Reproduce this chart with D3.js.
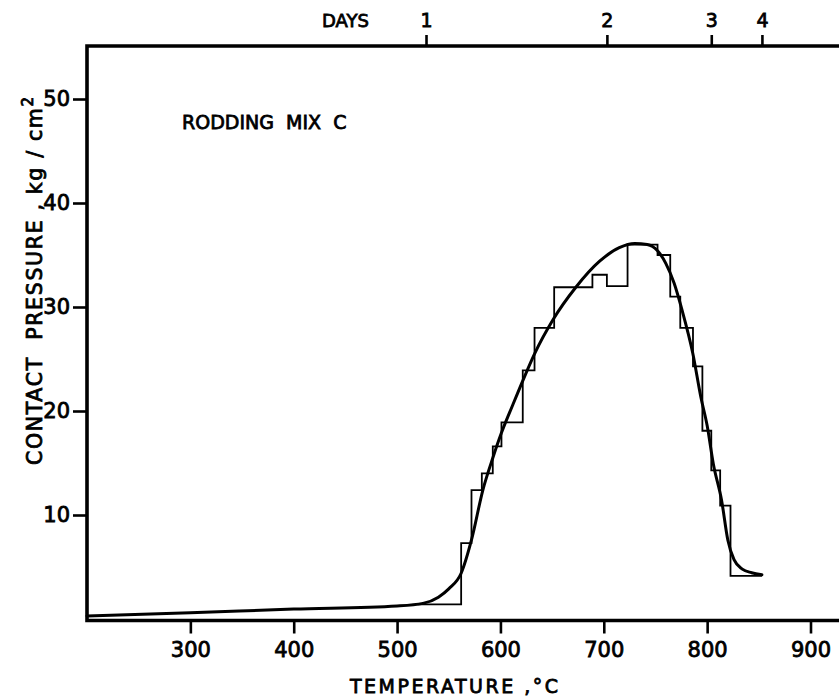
<!DOCTYPE html>
<html><head><meta charset="utf-8">
<script src="https://cdn.jsdelivr.net/npm/d3@7"></script>
<style>
body{margin:0;background:#fff}
svg{display:block}
text{font-family:"DejaVu Sans",sans-serif;fill:#000;stroke:#000;stroke-width:0.8px}
</style>
</head><body>
<svg id="c" width="839" height="700"></svg>
<script>
// ---- data ----
const xTicks = [300, 400, 500, 600, 700, 800, 900];
const yTicks = [10, 20, 30, 40, 50];
const dayLabels = ["1", "2", "3", "4"];
const dayTemps = [528, 703, 804, 853];

// measured step (histogram-like) trace: edges in °C, levels in kg/cm²
const stepEdges  = [520, 562, 572, 582, 592.6, 601, 621.6, 633, 652, 689, 703, 723, 752, 764.3, 774, 786.3, 795.4, 804, 812.6, 822.6, 853];
const stepLevels = [1.4, 7.3, 12.4, 14.0, 16.6, 18.9, 23.9, 28.0, 31.9, 33.1, 32.0, 36.0, 35.0, 31.0, 28.0, 24.3, 18.1, 14.3, 10.9, 4.15];

// smoothed curve
const curveTemps    = [200, 300, 400, 500, 525, 540, 550, 562, 572, 583, 593, 601, 612, 622, 633, 651, 673, 696, 715, 730, 742, 752, 760, 768, 776, 786, 794, 800, 806, 814, 820, 826, 834, 843, 853];
const curvePressure = [0.3, 0.6, 0.95, 1.25, 1.5, 2.1, 2.9, 4.4, 7.6, 12.4, 15.6, 17.9, 20.6, 23.0, 25.5, 28.8, 31.9, 34.4, 35.7, 36.1, 36.0, 35.4, 34.2, 32.3, 29.6, 25.6, 21.3, 18.6, 14.9, 11.4, 7.6, 5.7, 4.8, 4.45, 4.25];

// ---- drawing ----
const svg = d3.select("#c");
const x = d3.scaleLinear().domain([200, 900]).range([87, 810.5]);
const y = d3.scaleLinear().domain([0, 50]).range([619, 99]);
const yTop = 46, yBot = 620.5, xLeft = 87, xRight = 846;

// frame
svg.append("path")
  .attr("d", `M${xRight},${yTop}H${xLeft}V${yBot}H${xRight}`)
  .attr("fill", "none").attr("stroke", "#000").attr("stroke-width", 3.6);

// bottom axis
const gx = svg.append("g").attr("transform", `translate(0,${yBot})`)
  .call(d3.axisBottom(x).tickValues(xTicks).tickSize(13).tickPadding(9).tickFormat(d3.format("d")));
// left axis
const gy = svg.append("g").attr("transform", `translate(${xLeft},0)`)
  .call(d3.axisLeft(y).tickValues(yTicks).tickSize(14).tickPadding(3).tickFormat(d3.format("d")));
// top (days) axis
const gt = svg.append("g").attr("transform", `translate(0,${yTop})`)
  .call(d3.axisTop(x).tickValues(dayTemps).tickSize(11).tickPadding(8).tickFormat((d, i) => dayLabels[i]));

[gx, gy, gt].forEach(g => {
  g.select(".domain").remove();
  g.selectAll(".tick line").attr("stroke", "#000").attr("stroke-width", 2.6);
  g.selectAll(".tick text").attr("fill", "#000")
    .style("font-family", '"DejaVu Sans",sans-serif').style("font-size", "21px");
});
gt.selectAll(".tick text").style("font-size", "19px");

// step trace
const stepData = stepLevels.map((v, i) => [stepEdges[i], v]).concat([[stepEdges[stepEdges.length - 1], stepLevels[stepLevels.length - 1]]]);
svg.append("path")
  .datum(stepData)
  .attr("fill", "none").attr("stroke", "#000").attr("stroke-width", 1.8)
  .attr("d", d3.line().x(d => x(d[0])).y(d => y(d[1])).curve(d3.curveStepAfter));

// smooth curve
svg.append("path")
  .datum(curveTemps.map((t, i) => [t, curvePressure[i]]))
  .attr("fill", "none").attr("stroke", "#000").attr("stroke-width", 3)
  .attr("stroke-linejoin", "round").attr("stroke-linecap", "round")
  .attr("d", d3.line().x(d => x(d[0])).y(d => y(d[1])).curve(d3.curveMonotoneX));

// fit helper: spread letters so text spans a target length
function fit(sel, target) {
  const node = sel.node();
  const n = node.textContent.length;
  const L = node.getComputedTextLength();
  sel.style("letter-spacing", ((target - L) / (n - 1)) + "px");
}

// texts
svg.append("text").attr("x", 322).attr("y", 27).style("font-size", "18px").text("DAYS");
svg.append("text").attr("x", 182).attr("y", 128.5).style("font-size", "19px")
  .style("white-space", "pre").text("RODDING  MIX  C");
const xl = svg.append("text").attr("x", 350).attr("y", 693).style("font-size", "19px")
  .style("white-space", "pre").text("TEMPERATURE ,°C");
fit(xl, 208);

const yl = svg.append("text").attr("transform", "translate(42,465) rotate(-90)")
  .style("font-size", "20.5px").style("white-space", "pre");
yl.append("tspan").text("CONTACT  PRESSURE , kg / cm");
yl.append("tspan").attr("dy", -9).style("font-size", "15px").text("2");
fit(yl, 368);
</script>
</body></html>
